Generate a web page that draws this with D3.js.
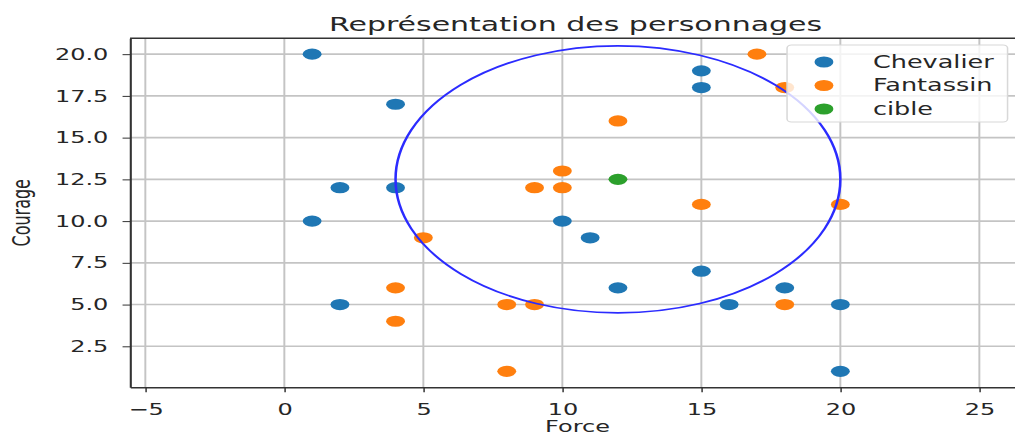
<!DOCTYPE html>
<html>
<head>
<meta charset="utf-8">
<script src="https://cdn.jsdelivr.net/npm/d3@7"></script>
<style>
  body { margin: 0; background: #fff; }
  svg { display: block; overflow: hidden; }
  text { font-family: "DejaVu Sans", sans-serif; fill: #262626; }
</style>
</head>
<body>
<div id="chart"></div>
<script>
// Chevalier points [force, courage]
const chevalier = [
  [1, 20], [4, 17], [2, 12], [4, 12], [1, 10], [2, 5],
  [15, 19], [15, 18], [10, 10], [11, 9], [15, 7], [12, 6],
  [16, 5], [18, 6], [20, 5], [20, 1]
];
// Fantassin points [force, courage]
const fantassin = [
  [17, 20], [18, 18], [12, 16], [10, 13], [9, 12], [10, 12],
  [15, 11], [20, 11], [5, 9], [4, 6], [4, 4], [8, 5],
  [9, 5], [18, 5], [8, 1]
];
const cible = [[12, 12.5]];
const rayon = 8;

const seriesNames = ["Chevalier", "Fantassin", "cible"];
const colors = ["#1f77b4", "#ff7f0e", "#2ca02c"];
const xTicks = [-5, 0, 5, 10, 15, 20, 25];
const yTicks = [2.5, 5, 7.5, 10, 12.5, 15, 17.5, 20];

// the picture is stretched horizontally, draw in a narrower space then scale
const sx = 1.5;
const svg = d3.select("#chart").append("svg").attr("width", 1015).attr("height", 437);
const g = svg.append("g").attr("transform", `scale(${sx},1)`);

const x = d3.scaleLinear().domain([-5.55, 26.5]).range([86.7, 680.7]);
const y = d3.scaleLinear().domain([0.05, 20.95]).range([387.2, 38.3]);

// grid
g.append("g").selectAll("line").data(xTicks).enter().append("line")
  .attr("x1", d => x(d)).attr("x2", d => x(d))
  .attr("y1", y.range()[0]).attr("y2", y.range()[1])
  .attr("stroke", "#c4c4c4").attr("stroke-width", 1.3);
g.append("g").selectAll("line").data(yTicks).enter().append("line")
  .attr("x1", x.range()[0]).attr("x2", x.range()[1])
  .attr("y1", d => y(d)).attr("y2", d => y(d))
  .attr("stroke", "#c4c4c4").attr("stroke-width", 1.6);

// axes
const xAxis = g.append("g").attr("transform", `translate(0,${y.range()[0]})`)
  .call(d3.axisBottom(x).tickValues(xTicks).tickSize(5).tickPadding(11).tickSizeOuter(0));
const yAxis = g.append("g").attr("transform", `translate(${x.range()[0]},0)`)
  .call(d3.axisLeft(y).tickValues(yTicks).tickFormat(d3.format(".1f")).tickSize(5).tickPadding(9.5).tickSizeOuter(0));
[xAxis, yAxis].forEach(a => {
  a.selectAll("text").attr("font-size", 16).attr("fill", "#262626").attr("font-family", "DejaVu Sans");
  a.selectAll("line").attr("stroke", "#333");
  a.select(".domain").attr("stroke", "#333").attr("stroke-width", 1.4);
});
// top and right spines
g.append("line").attr("x1", x.range()[0]).attr("x2", x.range()[1])
  .attr("y1", y.range()[1]).attr("y2", y.range()[1]).attr("stroke", "#333").attr("stroke-width", 1.4);
g.append("line").attr("x1", x.range()[1]).attr("x2", x.range()[1])
  .attr("y1", y.range()[0]).attr("y2", y.range()[1]).attr("stroke", "#333").attr("stroke-width", 1.4);

// points
[chevalier, fantassin, cible].forEach((pts, i) => {
  g.append("g").selectAll("ellipse").data(pts).enter().append("ellipse")
    .attr("cx", d => x(d[0])).attr("cy", d => y(d[1]))
    .attr("rx", 6.3).attr("ry", 5.6)
    .attr("fill", colors[i]);
});

// circle around the target
g.append("ellipse")
  .attr("cx", x(cible[0][0])).attr("cy", y(cible[0][1]))
  .attr("rx", x(cible[0][0] + rayon) - x(cible[0][0]))
  .attr("ry", y(cible[0][1]) - y(cible[0][1] + rayon))
  .attr("fill", "none").attr("stroke", "#2b2bff").attr("stroke-width", 1.7);

// titles
g.append("text").attr("x", (x.range()[0] + x.range()[1]) / 2).attr("y", 31)
  .attr("text-anchor", "middle").attr("font-size", 20).text("Représentation des personnages");
g.append("text").attr("x", 385).attr("y", 432)
  .attr("text-anchor", "middle").attr("font-size", 16).text("Force");
g.append("text").attr("transform", `translate(20,${(y.range()[0] + y.range()[1]) / 2}) rotate(-90)`)
  .attr("text-anchor", "middle").attr("font-size", 16).text("Courage");

// legend
const leg = g.append("g");
leg.append("rect").attr("x", 524.7).attr("y", 45).attr("width", 147).attr("height", 77)
  .attr("rx", 3).attr("fill", "#fff").attr("fill-opacity", 0.8)
  .attr("stroke", "#d8d8d8").attr("stroke-width", 1);
seriesNames.forEach((name, i) => {
  const ly = 62 + i * 23.5;
  leg.append("ellipse").attr("cx", 549.3).attr("cy", ly).attr("rx", 6.3).attr("ry", 5.6).attr("fill", colors[i]);
  leg.append("text").attr("x", 582).attr("y", ly + 6).attr("font-size", 17).text(name);
});
</script>
</body>
</html>
